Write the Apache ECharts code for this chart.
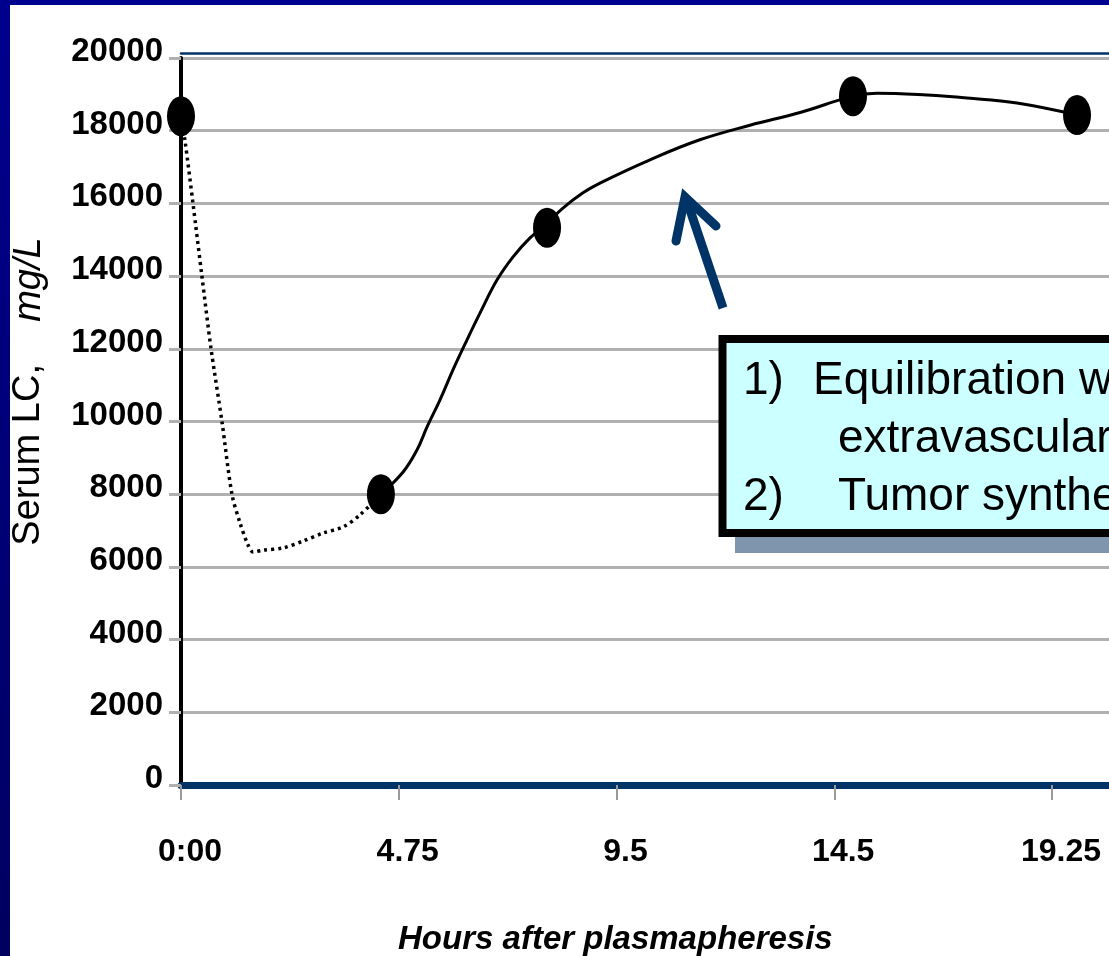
<!DOCTYPE html>
<html>
<head>
<meta charset="utf-8">
<script src="https://cdn.jsdelivr.net/npm/echarts@6.0.0/dist/echarts.min.js"></script>
<style>
  html, body { margin: 0; padding: 0; background: #fff; }
  #main { width: 1109px; height: 956px; }
</style>
</head>
<body>
<div id="main"></div>
<script>
// x is measured in tick steps: 0 = "0:00", 1 = "4.75", 2 = "9.5" ...
var tickLabels = ['0:00', '4.75', '9.5', '14.5', '19.25'];

// measured samples (big dots)
var sampleX = [0, 0.918, 1.681, 3.086, 4.115];
var sampleY = [18400, 8000, 15330, 18950, 18430];

// dotted drop right after plasmapheresis
var dropX = [0, 0.018, 0.055, 0.096, 0.138, 0.188, 0.234, 0.271, 0.308, 0.331, 0.377, 0.468, 0.56, 0.652, 0.744, 0.822, 0.918];
var dropY = [18400, 17740, 16000, 14000, 12000, 10000, 8000, 7210, 6600, 6410, 6460, 6520, 6710, 6930, 7100, 7430, 8000];

// solid rebound curve
var riseX = [0.918, 1.02, 1.084, 1.13, 1.189, 1.249, 1.313, 1.373, 1.451, 1.525, 1.603, 1.681, 1.75, 1.846, 1.924, 2.154, 2.383, 2.613, 2.843, 3.086, 3.196, 3.426, 3.61, 3.839, 4.115];
var riseY = [8000, 8610, 9220, 9850, 10590, 11420, 12240, 12980, 13890, 14530, 15050, 15450, 15850, 16290, 16560, 17200, 17750, 18150, 18500, 18950, 19030, 18980, 18900, 18760, 18430];

var noteLines = ['1)', 'Equilibration with', 'extravascular space', '2)', 'Tumor synthesis'];

function pairs(xs, ys) {
    return xs.map(function (x, i) { return [x, ys[i]]; });
}

var FONT = '"Liberation Sans", Arial, sans-serif';
var NAVY = '#003366';

var myChart = echarts.init(document.getElementById('main'));
option = {
    backgroundColor: '#ffffff',
    animation: false,
    grid: {
        left: 181,
        top: 58,
        width: 1088.75,
        height: 727,
        outerBoundsMode: 'none'
    },
    xAxis: [{
        type: 'value',
        min: 0,
        max: 5,
        interval: 1,
        axisLine: { onZero: false, lineStyle: { color: NAVY, width: 7 } },
        axisTick: { show: true, length: 15, lineStyle: { color: '#9a9a9a', width: 2 } },
        splitLine: { show: false },
        axisLabel: {
            margin: 67,
            verticalAlign: 'middle',
            padding: [0, 0, 0, 18],
            color: '#000',
            fontFamily: FONT,
            fontSize: 32,
            fontWeight: 'bold',
            formatter: function (v) { return tickLabels[Math.round(v)] || ''; }
        },
        name: 'Hours after plasmapheresis',
        nameLocation: 'middle',
        nameGap: 0,
        nameTextStyle: {
            color: '#000',
            fontFamily: FONT,
            fontSize: 33,
            fontWeight: 'bold',
            fontStyle: 'italic',
            padding: [138, 220, 0, 0]
        }
    }, {
        type: 'value',
        position: 'top',
        offset: 5,
        min: 0,
        max: 5,
        axisLine: { onZero: false, lineStyle: { color: NAVY, width: 2.5 } },
        axisTick: { show: false },
        axisLabel: { show: false },
        splitLine: { show: false }
    }],
    yAxis: {
        type: 'value',
        min: 0,
        max: 20000,
        interval: 2000,
        axisLine: { show: true, lineStyle: { color: '#000', width: 4 } },
        axisTick: { show: true, length: 12, lineStyle: { color: '#b0b0b0', width: 3 } },
        splitLine: { lineStyle: { color: '#b0b0b0', width: 3 } },
        axisLabel: {
            margin: 18,
            verticalAlign: 'bottom',
            lineHeight: 12,
            color: '#000',
            fontFamily: FONT,
            fontSize: 33,
            fontWeight: 'bold',
            formatter: function (v) { return String(v); }
        },
        name: 'Serum LC,    {i|mg/L}',
        nameLocation: 'middle',
        nameRotate: 90,
        nameGap: 133,
        nameTextStyle: {
            color: '#000',
            fontFamily: FONT,
            fontSize: 38,
            padding: [0, 0, 0, 60],
            rich: {
                i: { fontFamily: FONT, fontSize: 38, fontStyle: 'italic', color: '#000' }
            }
        }
    },
    series: [{
        name: 'drop',
        type: 'line',
        data: pairs(dropX, dropY),
        smooth: 0.3,
        showSymbol: false,
        clip: false,
        lineStyle: { color: '#000', width: 3.5, type: [3, 4], cap: 'butt' }
    }, {
        name: 'rise',
        type: 'line',
        data: pairs(riseX, riseY),
        smooth: 0.4,
        showSymbol: false,
        clip: false,
        lineStyle: { color: '#000', width: 3 }
    }, {
        name: 'samples',
        type: 'scatter',
        data: pairs(sampleX, sampleY),
        symbol: 'circle',
        symbolSize: [28, 40],
        clip: false,
        itemStyle: { color: '#000', opacity: 1 },
        z: 5
    }],
    graphic: [
        // slide frame
        {
            type: 'rect', z: 200,
            shape: { x: 0, y: 0, width: 10, height: 956 },
            style: {
                fill: new echarts.graphic.LinearGradient(0, 0, 0, 1, [
                    { offset: 0, color: '#00008e' },
                    { offset: 1, color: '#000060' }
                ])
            }
        },
        {
            type: 'rect', z: 200,
            shape: { x: 0, y: 0, width: 1109, height: 5 },
            style: { fill: '#00008e' }
        },
        // arrow
        {
            type: 'polyline', z: 100,
            shape: { points: [[723, 308], [686, 198]] },
            style: { stroke: NAVY, lineWidth: 9, fill: null, lineCap: 'butt' }
        },
        {
            type: 'polyline', z: 100,
            shape: { points: [[676, 241], [685, 197], [716, 226]] },
            style: { stroke: NAVY, lineWidth: 9, fill: null, lineCap: 'round', lineJoin: 'miter' }
        },
        // note box
        {
            type: 'rect', z: 100,
            shape: { x: 735, y: 353, width: 600, height: 200 },
            style: { fill: '#7f95ae' }
        },
        {
            type: 'rect', z: 101,
            shape: { x: 722.5, y: 339, width: 600, height: 194 },
            style: { fill: '#ccffff', stroke: '#000', lineWidth: 8 }
        },
        {
            type: 'text', z: 102, x: 743, y: 381,
            style: { text: noteLines[0], font: '46px ' + FONT, fill: '#000', verticalAlign: 'middle' }
        },
        {
            type: 'text', z: 102, x: 813, y: 381,
            style: { text: noteLines[1], font: '46px ' + FONT, fill: '#000', verticalAlign: 'middle' }
        },
        {
            type: 'text', z: 102, x: 838, y: 439,
            style: { text: noteLines[2], font: '46px ' + FONT, fill: '#000', verticalAlign: 'middle' }
        },
        {
            type: 'text', z: 102, x: 743, y: 497,
            style: { text: noteLines[3], font: '46px ' + FONT, fill: '#000', verticalAlign: 'middle' }
        },
        {
            type: 'text', z: 102, x: 838, y: 497,
            style: { text: noteLines[4], font: '46px ' + FONT, fill: '#000', verticalAlign: 'middle' }
        }
    ]
};
myChart.setOption(option);
</script>
</body>
</html>
